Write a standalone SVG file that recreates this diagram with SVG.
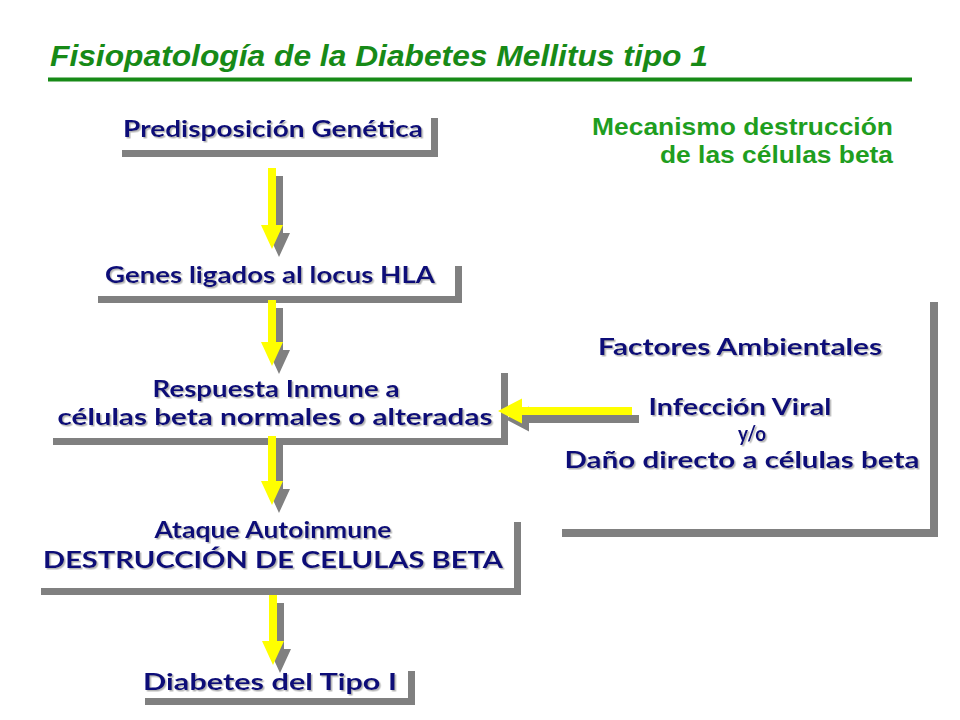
<svg xmlns="http://www.w3.org/2000/svg" width="960" height="720" viewBox="0 0 960 720">
  <defs>
    <filter id="tshadow" x="-5%" y="-20%" width="110%" height="150%">
      <feDropShadow dx="1.5" dy="1.5" stdDeviation="0.6" flood-color="#8c8c8c" flood-opacity="0.65"/>
    </filter>
  </defs>
  <style>
    .title { font-family: "Liberation Sans", Arial, sans-serif; font-weight: bold; font-style: italic; font-size: 30px; fill: #178a17; }
    .sub { font-family: "Liberation Sans", Arial, sans-serif; font-weight: bold; font-size: 24px; fill: #1f9e1f; text-anchor: end; }
    .lbl { font-family: "Comic Sans MS", Lato, "DejaVu Sans", sans-serif; font-weight: bold; font-size: 23px; fill: #0a0a78; text-anchor: middle; filter: url(#tshadow); }
    .small { font-size: 20px; }
    .box { fill: #ffffff; }
    .shadow { fill: #808080; }
    .arrow { fill: #ffff00; }
    .ashadow { fill: #808080; }
  </style>
  <rect x="0" y="0" width="960" height="720" fill="#ffffff"/>

  <g id="header">
    <text class="title" x="50" y="66" textLength="658" lengthAdjust="spacingAndGlyphs">Fisiopatología de la Diabetes Mellitus tipo 1</text>
    <rect x="48" y="77.5" width="864" height="4" fill="#178a17"/>
    <text class="sub" x="893" y="135" textLength="301" lengthAdjust="spacingAndGlyphs">Mecanismo destrucción</text>
    <text class="sub" x="893" y="163" textLength="233" lengthAdjust="spacingAndGlyphs">de las células beta</text>
  </g>

  <g id="predisposicion">
    <rect class="shadow" x="122" y="118" width="316" height="39"/>
    <rect class="box" x="115" y="111" width="316" height="39"/>
    <text class="lbl" x="273" y="137" textLength="300" lengthAdjust="spacingAndGlyphs">Predisposición Genética</text>
  </g>

  <g id="genes">
    <rect class="shadow" x="98" y="266" width="364" height="37"/>
    <rect class="box" x="91" y="259" width="364" height="37"/>
    <text class="lbl" x="270" y="283" textLength="330" lengthAdjust="spacingAndGlyphs">Genes ligados al locus HLA</text>
  </g>

  <g id="respuesta">
    <rect class="shadow" x="53" y="373" width="455" height="72"/>
    <rect class="box" x="46" y="366" width="455" height="72"/>
    <text class="lbl" x="276" y="397" textLength="247" lengthAdjust="spacingAndGlyphs">Respuesta Inmune a</text>
    <text class="lbl" x="275" y="425" textLength="435" lengthAdjust="spacingAndGlyphs">células beta normales o alteradas</text>
  </g>

  <g id="ataque">
    <rect class="shadow" x="41" y="522" width="480" height="73"/>
    <rect class="box" x="34" y="515" width="480" height="73"/>
    <text class="lbl" x="273" y="538" textLength="237" lengthAdjust="spacingAndGlyphs">Ataque Autoinmune</text>
    <text class="lbl" x="273" y="568" textLength="460" lengthAdjust="spacingAndGlyphs">DESTRUCCIÓN DE CELULAS BETA</text>
  </g>

  <g id="diabetes">
    <rect class="shadow" x="145" y="671" width="270" height="34"/>
    <rect class="box" x="138" y="664" width="270" height="34"/>
    <text class="lbl" x="270" y="690" textLength="254" lengthAdjust="spacingAndGlyphs">Diabetes del Tipo I</text>
  </g>

  <g id="factores">
    <rect class="shadow" x="562" y="302" width="376" height="235"/>
    <rect class="box" x="554" y="294" width="376" height="235"/>
    <text class="lbl" x="740" y="355" textLength="284" lengthAdjust="spacingAndGlyphs">Factores Ambientales</text>
    <text class="lbl" x="740" y="415" textLength="183" lengthAdjust="spacingAndGlyphs">Infección Viral</text>
    <text class="lbl small" x="752" y="441" textLength="28" lengthAdjust="spacingAndGlyphs">y/o</text>
    <text class="lbl" x="742" y="468" textLength="355" lengthAdjust="spacingAndGlyphs">Daño directo a células beta</text>
  </g>

  <g id="connectors">
    <g transform="translate(7,8)">
      <path class="ashadow" d="M268,168 L276,168 L276,225 L283,225 L272,249 L261,225 L268,225 Z"/>
      <path class="ashadow" d="M268,300 L276,300 L276,342 L283,342 L272,366 L261,342 L268,342 Z"/>
      <path class="ashadow" d="M268,436 L276,436 L276,481 L283,481 L272,505 L261,481 L268,481 Z"/>
      <path class="ashadow" d="M269,595 L277,595 L277,641 L284,641 L273,665 L262,641 L269,641 Z"/>
      <path class="ashadow" d="M632,407 L522,407 L522,398.5 L498,411 L522,423.5 L522,415 L632,415 Z"/>
    </g>
    <path class="arrow" d="M268,168 L276,168 L276,225 L283,225 L272,249 L261,225 L268,225 Z"/>
    <path class="arrow" d="M268,300 L276,300 L276,342 L283,342 L272,366 L261,342 L268,342 Z"/>
    <path class="arrow" d="M268,436 L276,436 L276,481 L283,481 L272,505 L261,481 L268,481 Z"/>
    <path class="arrow" d="M269,595 L277,595 L277,641 L284,641 L273,665 L262,641 L269,641 Z"/>
    <path class="arrow" d="M632,407 L522,407 L522,398.5 L498,411 L522,423.5 L522,415 L632,415 Z"/>
  </g>
</svg>
